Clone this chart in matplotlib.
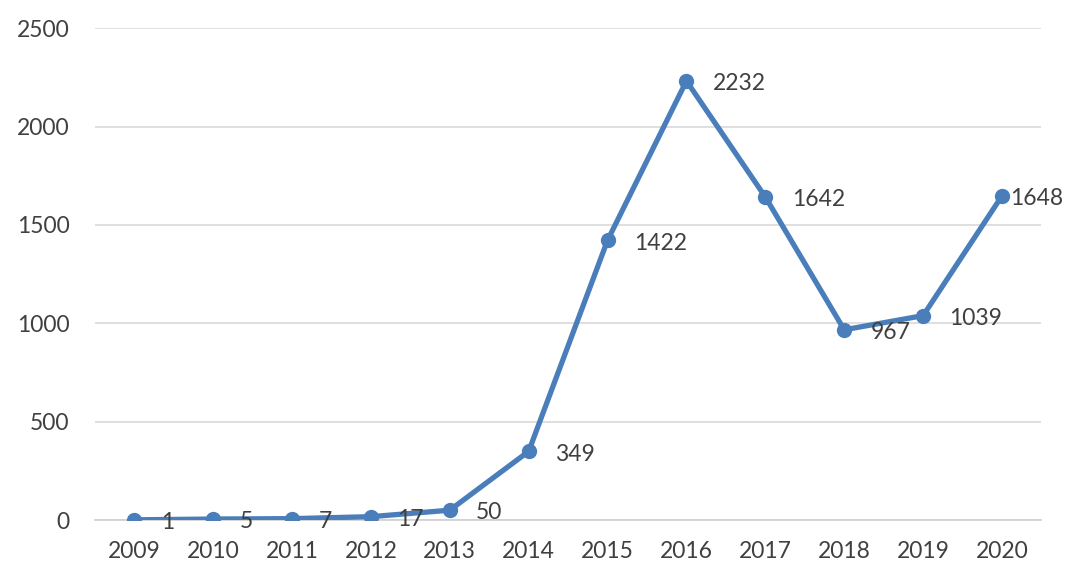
import matplotlib.pyplot as plt

years = ['2009', '2010', '2011', '2012', '2013', '2014',
         '2015', '2016', '2017', '2018', '2019', '2020']
counts = [1, 5, 7, 17, 50, 349, 1422, 2232, 1642, 967, 1039, 1648]

plt.rcParams['font.family'] = ['Lato', 'DejaVu Sans']

fig = plt.figure(figsize=(10.77, 5.82), dpi=100)
ax = fig.add_axes([0.088, 0.1065, 0.879, 0.845])

x = list(range(len(years)))
ax.plot(x, counts, color='#4a7ebb', linewidth=3.8, marker='o',
        markersize=10, zorder=3)

for i, v in enumerate(counts):
    dx = 19 if i < len(counts) - 1 else 6
    ax.annotate(str(v), (i, v), xytext=(dx, -2), textcoords='offset points',
                ha='left', va='center', fontsize=16.5, color='#404040')

ax.set_xlim(-0.5, len(years) - 0.5)
ax.set_ylim(0, 2500)
ax.set_yticks([0, 500, 1000, 1500, 2000, 2500])
ax.set_xticks(x)
ax.set_xticklabels(years)
ax.tick_params(axis='both', length=0, labelsize=16.5, labelcolor='#404040')
ax.tick_params(axis='y', pad=18)
ax.tick_params(axis='x', pad=15)
ax.grid(axis='y', color='#d9d9d9', linewidth=1.2)
ax.set_axisbelow(True)
for s in ['top', 'right', 'left']:
    ax.spines[s].set_visible(False)
ax.spines['bottom'].set_color('#d0d0d0')
ax.spines['bottom'].set_linewidth(1.2)

plt.savefig('out.png', dpi=100)
